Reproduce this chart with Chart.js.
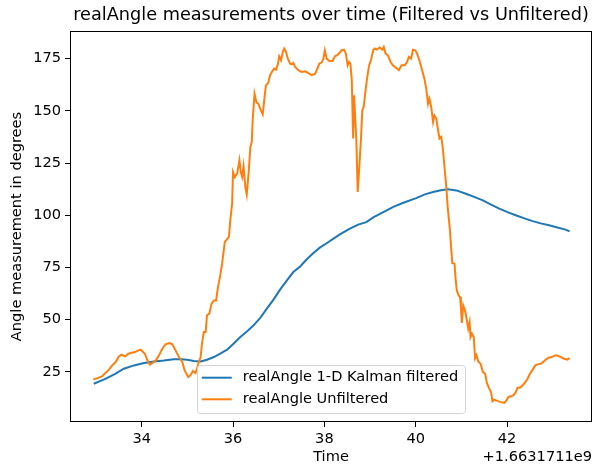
<!DOCTYPE html>
<html><head><meta charset="utf-8">
<script src="https://cdn.jsdelivr.net/npm/chart.js@4/dist/chart.umd.min.js"></script>
<style>html,body{margin:0;padding:0;background:#fff}#wrap{width:594px;height:467px}</style>
</head><body><div id="wrap"><canvas id="c" width="594" height="467"></canvas></div>
<script>
const chartTitle = 'realAngle measurements over time (Filtered vs Unfiltered)';
const xAxisLabel = 'Time';
const yAxisLabel = 'Angle measurement in degrees';
const timeOffsetLabel = '+1.6631711e9';
const seriesNames = ['realAngle 1-D Kalman filtered', 'realAngle Unfiltered'];
const seriesColors = ['#1f77b4', '#ff7f0e'];
const xTickValues = [34, 36, 38, 40, 42];
const yTickValues = [25, 50, 75, 100, 125, 150, 175];

// time values are seconds relative to the 1.6631711e9 offset
const filteredTime = [32.95,33.18,33.40,33.61,33.83,34.05,34.27,34.49,34.70,34.85,35.00,35.14,35.29,35.43,35.58,35.72,35.87,36.01,36.16,36.31,36.45,36.60,36.74,36.89,37.03,37.18,37.32,37.47,37.61,37.76,37.90,38.05,38.20,38.34,38.49,38.56,38.74,38.92,39.07,39.29,39.51,39.73,40.01,40.20,40.38,40.55,40.70,40.89,41.10,41.28,41.47,41.65,41.83,42.01,42.19,42.38,42.56,42.74,42.92,43.10,43.28,43.37];
const filteredAngle = [19.3,21.4,23.8,26.5,28.1,29.2,30.0,30.5,31.1,31.1,30.8,30.2,30.0,30.8,32.1,33.7,35.6,38.5,41.7,44.5,47.3,51.0,55.3,59.7,64.4,68.8,72.8,75.5,78.8,81.9,84.5,86.6,88.8,90.8,92.8,93.6,95.5,96.7,99.0,101.5,104.0,106.0,108.2,110.0,111.1,112.0,112.4,111.9,110.3,108.8,107.1,105.1,103.2,101.5,100.0,98.5,97.2,96.1,95.2,94.1,93.1,92.3];

const unfilteredTime = [32.94,33.03,33.13,33.20,33.27,33.35,33.43,33.50,33.56,33.64,33.71,33.78,33.85,33.93,33.98,34.03,34.07,34.12,34.18,34.23,34.31,34.38,34.45,34.52,34.61,34.67,34.74,34.81,34.89,34.94,35.02,35.08,35.12,35.18,35.22,35.25,35.29,35.32,35.36,35.40,35.43,35.48,35.53,35.58,35.63,35.67,35.72,35.76,35.82,35.88,35.91,35.94,35.98,36.00,36.04,36.09,36.14,36.17,36.20,36.23,36.27,36.30,36.34,36.38,36.41,36.43,36.47,36.51,36.56,36.61,36.65,36.69,36.72,36.77,36.81,36.85,36.90,36.94,36.98,37.01,37.05,37.09,37.12,37.16,37.20,37.25,37.29,37.32,37.36,37.43,37.50,37.58,37.65,37.72,37.80,37.83,37.89,37.94,37.98,38.01,38.05,38.11,38.18,38.23,38.28,38.33,38.38,38.43,38.47,38.51,38.54,38.57,38.60,38.63,38.65,38.70,38.73,38.76,38.80,38.83,38.86,38.91,38.94,38.98,39.02,39.07,39.10,39.15,39.21,39.27,39.30,39.34,39.39,39.45,39.50,39.56,39.63,39.69,39.76,39.81,39.85,39.90,39.94,39.99,40.03,40.08,40.14,40.19,40.23,40.27,40.30,40.34,40.38,40.41,40.45,40.49,40.52,40.56,40.59,40.63,40.67,40.70,40.75,40.78,40.80,40.85,40.87,40.90,40.94,40.97,40.99,41.01,41.04,41.08,41.12,41.15,41.18,41.20,41.23,41.27,41.30,41.33,41.37,41.42,41.47,41.52,41.56,41.61,41.65,41.68,41.72,41.80,41.87,41.94,41.99,42.03,42.09,42.14,42.19,42.23,42.28,42.34,42.40,42.45,42.50,42.56,42.62,42.67,42.74,42.79,42.85,42.91,42.98,43.05,43.10,43.18,43.25,43.32,43.37];
const unfilteredAngle = [21.4,22.0,22.8,24.4,25.7,28.0,29.7,32.4,33.2,32.4,33.7,34.2,34.5,35.3,35.6,34.5,33.7,30.8,28.5,29.2,30.5,32.9,36.1,38.2,38.8,38.2,35.3,32.4,29.7,25.7,22.5,23.8,25.4,24.4,27.3,29.7,32.1,38.5,44.1,44.1,52.1,52.9,57.7,59.2,59.2,65.6,71.2,76.8,87.2,88.8,89.6,97.6,105.6,120.7,118.3,119.9,126.3,120.7,118.3,123.4,113.5,109.9,119.9,132.7,135.1,145.5,158.2,154.2,153.1,150.2,148.3,156.6,162.2,163.3,167.0,168.6,170.2,169.7,172.1,176.1,174.2,178.2,179.8,178.2,175.0,172.6,172.3,172.9,171.0,169.4,168.6,168.9,168.1,167.1,167.8,169.4,172.6,173.1,175.0,179.0,175.0,173.9,173.9,176.1,176.6,177.7,179.0,179.3,177.4,171.8,173.4,172.6,164.6,136.7,157.4,135.9,111.1,121.5,135.9,150.2,151.8,161.4,166.2,171.8,174.2,179.0,179.8,179.3,180.3,179.3,180.6,177.4,176.6,173.4,171.8,170.7,169.4,171.8,171.8,173.4,175.8,175.0,179.3,179.0,177.4,174.2,169.4,165.4,160.6,153.4,155.8,151.8,144.6,147.8,146.3,140.7,136.7,137.5,132.7,123.1,113.5,104.0,92.8,83.2,77.1,76.8,70.4,64.0,61.6,60.8,56.0,48.4,56.8,54.4,49.7,45.7,48.8,41.7,43.3,41.7,31.5,33.0,30.0,28.9,24.9,24.1,19.6,17.0,15.3,10.9,11.7,11.0,10.5,10.1,11.4,13.0,13.3,13.8,15.3,17.4,17.4,18.5,20.1,21.7,24.1,26.1,28.1,28.6,28.9,29.7,30.9,31.8,32.1,32.9,32.9,32.1,31.3,30.9,31.6];

const FONT = '"DejaVu Sans", "Liberation Sans", sans-serif';
const FS = 14.6;
Chart.defaults.font.family = FONT;
Chart.defaults.color = '#000';

const toPoints = (xs, ys) => xs.map((x, i) => ({x: x, y: ys[i]}));

const framePlugin = {
  id: 'frameAndLegend',
  afterDatasetsDraw(chart) {
    const ctx = chart.ctx, ca = chart.chartArea;
    ctx.save();
    // axes frame
    ctx.strokeStyle = '#000';
    ctx.lineWidth = 1;
    ctx.strokeRect(Math.round(ca.left) + 0.5, Math.round(ca.top) + 0.5,
                   Math.round(ca.right - ca.left) - 1, Math.round(ca.bottom - ca.top) - 1);
    // legend
    ctx.font = FS + 'px ' + FONT;
    const tw = Math.max(...seriesNames.map(n => ctx.measureText(n).width));
    const padL = 5, handle = 30, gap = 11, padR = 7, h = 48;
    const w = padL + handle + gap + tw + padR;
    const x0 = (ca.left + ca.right) / 2 - w / 2;
    const y0 = ca.bottom - 9 - h;
    ctx.beginPath();
    ctx.roundRect(Math.round(x0) + 0.5, Math.round(y0) + 0.5, Math.round(w), h, 3);
    ctx.fillStyle = 'rgba(255,255,255,0.8)';
    ctx.fill();
    ctx.strokeStyle = '#d5d5d5';
    ctx.stroke();
    const rows = [y0 + 12.7, y0 + 34.3];
    seriesNames.forEach((name, i) => {
      ctx.strokeStyle = seriesColors[i];
      ctx.lineWidth = 2;
      ctx.beginPath();
      ctx.moveTo(x0 + padL, rows[i]);
      ctx.lineTo(x0 + padL + handle, rows[i]);
      ctx.stroke();
      ctx.fillStyle = '#000';
      ctx.textAlign = 'left';
      ctx.textBaseline = 'middle';
      ctx.fillText(name, x0 + padL + handle + gap, rows[i]);
    });
    // offset text
    ctx.font = FS + 'px ' + FONT;
    ctx.textAlign = 'right';
    ctx.textBaseline = 'middle';
    ctx.fillStyle = '#000';
    ctx.fillText(timeOffsetLabel, ca.right, 457);
    ctx.restore();
  }
};

new Chart(document.getElementById('c'), {
  type: 'line',
  data: {
    datasets: [
      {label: seriesNames[0], data: toPoints(filteredTime, filteredAngle), borderColor: seriesColors[0], backgroundColor: seriesColors[0], borderWidth: 2, pointRadius: 0, tension: 0, fill: false, order: 2},
      {label: seriesNames[1], data: toPoints(unfilteredTime, unfilteredAngle), borderColor: seriesColors[1], backgroundColor: seriesColors[1], borderWidth: 2, pointRadius: 0, tension: 0, fill: false, order: 1}
    ]
  },
  options: {
    responsive: false,
    animation: false,
    devicePixelRatio: 1,
    layout: {padding: {left: 0, right: 2, top: 0, bottom: 0}},
    plugins: {
      legend: {display: false},
      tooltip: {enabled: false},
      title: {display: true, text: chartTitle, fullSize: false, color: '#000',
              font: {size: 17.7, weight: 'normal', family: FONT, lineHeight: 1.2}, padding: {top: 5, bottom: 4.8}}
    },
    scales: {
      x: {
        type: 'linear', min: 32.43, max: 43.86,
        afterBuildTicks: s => { s.ticks = xTickValues.map(v => ({value: v})); },
        afterFit: s => { s.height = 45; },
        ticks: {font: {size: FS}, color: '#000', padding: 3, maxRotation: 0, autoSkip: false},
        grid: {drawOnChartArea: false, drawTicks: true, tickLength: 5, color: '#000', lineWidth: 1},
        border: {display: false},
        title: {display: true, text: xAxisLabel, color: '#000', font: {size: FS}, padding: {top: 0, bottom: 1}}
      },
      y: {
        type: 'linear', min: 1.0, max: 188.2,
        afterBuildTicks: s => { s.ticks = yTickValues.map(v => ({value: v})); },
        afterFit: s => { s.width = 70; },
        ticks: {font: {size: FS}, color: '#000', padding: 4, autoSkip: false},
        grid: {drawOnChartArea: false, drawTicks: true, tickLength: 5, color: '#000', lineWidth: 1},
        border: {display: false},
        title: {display: true, text: yAxisLabel, color: '#000', font: {size: FS}, padding: {top: 8, bottom: 0}}
      }
    }
  },
  plugins: [framePlugin]
});
</script></body></html>
